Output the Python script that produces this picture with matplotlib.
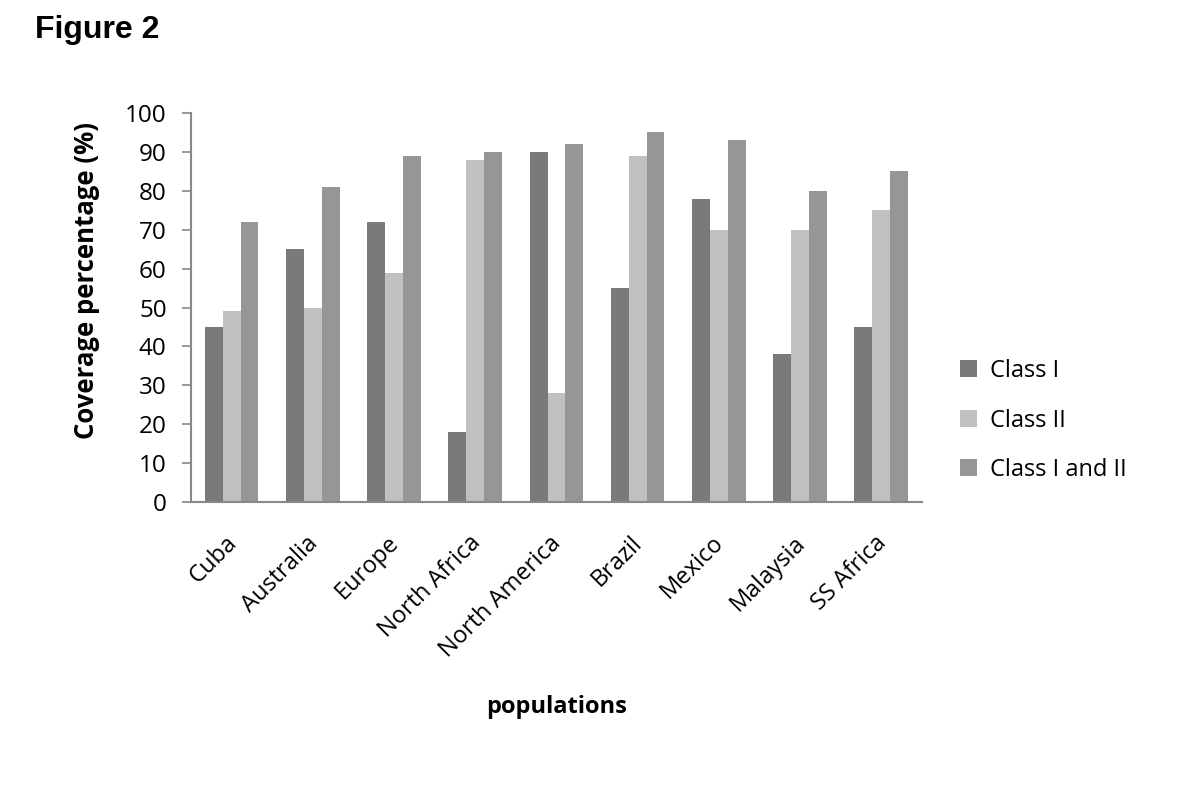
import numpy as np
import matplotlib.pyplot as plt
from matplotlib.transforms import ScaledTranslation

# data
populations = ['Cuba', 'Australia', 'Europe', 'North Africa', 'North America',
               'Brazil', 'Mexico', 'Malaysia', 'SS Africa']
class_1 = [45, 65, 72, 18, 90, 55, 78, 38, 45]
class_2 = [49, 50, 59, 88, 28, 89, 70, 70, 75]
class_1_2 = [72, 81, 89, 90, 92, 95, 93, 80, 85]

series_names = ['Class I', 'Class II', 'Class I and II']
colors = ['#7a7a7a', '#c0c0c0', '#969696']

plt.rcParams['font.family'] = ['Open Sans', 'DejaVu Sans']

fig = plt.figure(figsize=(12, 7.86), dpi=100)
ax = fig.add_axes([0.1592, 0.3613, 0.609, 0.4949])

x = np.arange(len(populations))
w = 0.22
for i, (vals, name, c) in enumerate(zip([class_1, class_2, class_1_2], series_names, colors)):
    ax.bar(x + (i - 1) * w, vals, width=w, color=c, label=name)

ax.set_xlim(-0.5, len(populations) - 0.5)
ax.set_ylim(0, 100)
ax.set_yticks(range(0, 101, 10))
ax.tick_params(axis='y', labelsize=17.5, length=6.5, width=1.2, color='#888888', pad=11)
ax.set_xticks(x)
ax.set_xticklabels(populations, rotation=45, ha='right', rotation_mode='anchor', fontsize=17)
ax.tick_params(axis='x', length=0, pad=21)
# nudge the slanted labels a little to the left, like the original
shift = ScaledTranslation(-5 / 72, 0, fig.dpi_scale_trans)
for lab in ax.get_xticklabels():
    lab.set_transform(lab.get_transform() + shift)

for s in ['top', 'right']:
    ax.spines[s].set_visible(False)
for s in ['left', 'bottom']:
    ax.spines[s].set_color('#888888')
    ax.spines[s].set_linewidth(1.5)

ax.set_ylabel('Coverage percentage (%)', fontsize=18.5, fontweight='bold')
ax.yaxis.set_label_coords(-0.124, 0.57)
fig.text(0.464, 0.1, 'populations', fontsize=17, fontweight='bold', ha='center', va='center')

fig.legend(loc='center left', bbox_to_anchor=(0.7825, 0.465), frameon=False, fontsize=17,
           handlelength=0.7, handleheight=0.7, labelspacing=1.08, handletextpad=0.55)

fig.text(0.029, 0.962, 'Figure 2', fontsize=23, fontweight='bold', family='Liberation Sans',
         ha='left', va='center')

fig.savefig('out.png', dpi=100)
